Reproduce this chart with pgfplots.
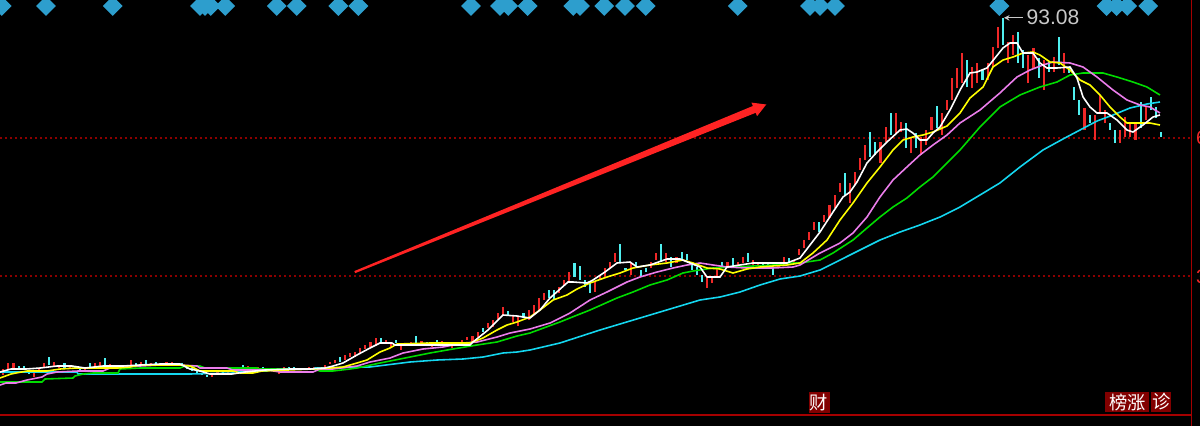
\documentclass[border=0pt]{standalone}
\usepackage{pgfplots}
\pgfplotsset{compat=1.18}
\usetikzlibrary{arrows.meta}
\usepackage{fontspec}
\setmainfont{Liberation Sans}
\newfontfamily\cjk{Noto Sans CJK SC}

\definecolor{upred}{RGB}{240,40,40}
\definecolor{dncyan}{RGB}{80,240,240}
\definecolor{mayel}{RGB}{255,255,0}
\definecolor{mamag}{RGB}{235,125,235}
\definecolor{magrn}{RGB}{0,220,0}
\definecolor{macyn}{RGB}{20,215,240}
\definecolor{diam}{RGB}{45,158,205}
\definecolor{gridred}{RGB}{140,0,0}
\definecolor{border}{RGB}{165,0,0}
\definecolor{boxred}{RGB}{130,0,0}
\definecolor{arrowred}{RGB}{255,35,35}
\definecolor{lbl}{RGB}{200,200,200}

\begin{document}
\begin{tikzpicture}
\fill[black] (0,0) rectangle (12cm,4.26cm);

\begin{axis}[
    at={(0cm,0.11cm)}, anchor=south west,
    scale only axis, width=11.92cm, height=4.16cm,
    xmin=-0.647, xmax=233.08,
    ymin=5.70, ymax=97.22,
    axis line style={draw=none},
    xtick=\empty,
    ytick={36.21,66.71}, yticklabels={},
    major tick length=0pt,
    ymajorgrids,
    grid style={gridred, line width=0.5pt, dash pattern=on 0.57pt off 0.85pt},
    unbounded coords=jump,
]

% up days (red)
\addplot[upred, line width=0.6pt] coordinates {
(0,14.50)(0,15.82)(0,nan) (1,15.60)(1,17.14)(1,nan) (2,15.82)(2,17.14)(2,nan)
(6,14.06)(6,14.94)(6,nan) (7,15.16)(7,15.82)(7,nan) (8,16.26)(8,17.14)(8,nan)
(10,16.26)(10,17.36)(10,nan) (11,16.04)(11,16.70)(11,nan) (13,15.82)(13,16.26)(13,nan)
(16,15.16)(16,15.82)(16,nan) (18,16.26)(18,17.14)(18,nan) (19,16.26)(19,17.36)(19,nan)
(21,16.26)(21,16.92)(21,nan) (24,16.26)(24,16.70)(24,nan) (25,16.70)(25,17.80)(25,nan)
(27,16.48)(27,17.36)(27,nan) (29,16.48)(29,17.14)(29,nan) (32,16.92)(32,17.36)(32,nan)
(33,16.70)(33,17.36)(33,nan) (41,14.06)(41,14.50)(41,nan) (42,14.50)(42,15.16)(42,nan)
(44,14.94)(44,15.60)(44,nan) (46,15.38)(46,16.04)(46,nan) (48,15.82)(48,16.48)(48,nan)
(50,15.82)(50,16.26)(50,nan) (52,15.60)(52,16.04)(52,nan) (54,14.72)(54,15.16)(54,nan)
(55,15.82)(55,16.26)(55,nan) (58,15.60)(58,16.04)(58,nan) (60,15.60)(60,16.26)(60,nan)
(61,15.82)(61,16.26)(61,nan) (62,15.82)(62,16.26)(62,nan) (63,16.26)(63,16.70)(63,nan)
(64,16.92)(64,17.36)(64,nan) (65,17.14)(65,17.80)(65,nan) (67,17.80)(67,18.90)(67,nan)
(68,18.46)(68,19.34)(68,nan) (69,18.46)(69,19.56)(69,nan) (70,19.34)(70,20.44)(70,nan)
(71,20.22)(71,21.10)(71,nan) (72,20.66)(72,21.76)(72,nan) (73,20.88)(73,22.64)(73,nan)
(75,21.32)(75,22.20)(75,nan) (76,20.66)(76,21.76)(76,nan) (78,20.00)(78,20.88)(78,nan)
(80,21.10)(80,21.76)(80,nan) (82,21.10)(82,21.98)(82,nan) (84,20.66)(84,21.76)(84,nan)
(86,21.32)(86,21.98)(86,nan) (88,20.44)(88,21.10)(88,nan) (90,21.32)(90,22.20)(90,nan)
(91,22.20)(91,22.86)(91,nan) (92,21.76)(92,23.08)(92,nan) (93,22.86)(93,23.96)(93,nan)
(95,24.84)(95,25.94)(95,nan) (96,25.06)(96,26.60)(96,nan) (97,26.82)(97,28.14)(97,nan)
(98,27.48)(98,29.46)(98,nan) (100,26.16)(100,27.70)(100,nan) (101,25.28)(101,27.26)(101,nan)
(103,26.60)(103,28.80)(103,nan) (104,27.70)(104,29.90)(104,nan) (105,28.80)(105,31.44)(105,nan)
(106,31.00)(106,32.54)(106,nan) (109,32.54)(109,33.86)(109,nan) (110,34.08)(110,35.40)(110,nan)
(111,34.96)(111,37.16)(111,nan) (116,32.76)(116,34.96)(116,nan) (117,35.40)(117,36.50)(117,nan)
(118,35.84)(118,38.04)(118,nan) (119,38.04)(119,39.36)(119,nan) (120,39.36)(120,41.34)(120,nan)
(123,36.50)(123,39.14)(123,nan) (127,38.04)(127,39.36)(127,nan) (128,39.80)(128,41.34)(128,nan)
(130,39.36)(130,41.34)(130,nan) (132,39.14)(132,40.46)(132,nan) (138,33.64)(138,35.84)(138,nan)
(139,34.74)(139,36.06)(139,nan) (140,36.06)(140,37.60)(140,nan) (142,38.26)(142,39.36)(142,nan)
(144,38.26)(144,39.36)(144,nan) (145,39.14)(145,40.46)(145,nan) (147,38.70)(147,39.80)(147,nan)
(148,38.70)(148,39.36)(148,nan) (152,38.26)(152,39.36)(152,nan) (153,39.14)(153,40.46)(153,nan)
(155,39.14)(155,39.80)(155,nan) (156,40.90)(156,42.22)(156,nan) (157,42.44)(157,44.20)(157,nan)
(158,44.20)(158,45.96)(158,nan) (159,46.40)(159,48.16)(159,nan) (161,48.16)(161,49.70)(161,nan)
(162,49.04)(162,51.90)(162,nan) (163,51.24)(163,54.10)(163,nan) (164,54.76)(164,56.74)(164,nan)
(166,52.34)(166,56.74)(166,nan) (167,56.30)(167,59.16)(167,nan) (168,59.60)(168,62.24)(168,nan)
(169,61.80)(169,65.10)(169,nan) (172,61.14)(172,65.76)(172,nan) (173,65.76)(173,69.06)(173,nan)
(175,67.74)(175,72.14)(175,nan) (176,67.96)(176,70.16)(176,nan) (178,63.34)(178,66.64)(178,nan)
(180,62.90)(180,66.86)(180,nan) (181,65.10)(181,68.40)(181,nan) (182,68.40)(182,71.26)(182,nan)
(184,67.30)(184,72.14)(184,nan) (185,72.80)(185,75.00)(185,nan) (186,75.00)(186,79.84)(186,nan)
(187,77.64)(187,82.04)(187,nan) (188,78.74)(188,85.34)(188,nan) (190,77.64)(190,82.26)(190,nan)
(191,78.74)(191,83.14)(191,nan) (193,79.40)(193,83.14)(193,nan) (194,82.26)(194,86.66)(194,nan)
(195,86.44)(195,91.06)(195,nan) (197,83.14)(197,87.76)(197,nan) (198,84.90)(198,89.30)(198,nan)
(201,78.74)(201,84.90)(201,nan) (202,82.04)(202,86.44)(202,nan) (204,77.20)(204,83.80)(204,nan)
(206,81.16)(206,84.46)(206,nan) (208,80.94)(208,85.34)(208,nan) (212,68.40)(212,73.24)(212,nan)
(214,66.20)(214,71.70)(214,nan) (215,72.36)(215,76.10)(215,nan) (216,69.94)(216,72.80)(216,nan)
(219,65.54)(219,68.40)(219,nan) (220,66.86)(220,71.26)(220,nan) (221,66.86)(221,69.94)(221,nan)
(222,66.20)(222,70.16)(222,nan) (224,70.60)(224,73.46)(224,nan)
};

% down days (cyan)
\addplot[dncyan, line width=0.6pt] coordinates {
(3,15.82)(3,16.48)(3,nan) (4,15.82)(4,16.48)(4,nan) (5,14.72)(5,15.38)(5,nan)
(9,16.70)(9,18.46)(9,nan) (12,16.04)(12,17.14)(12,nan) (14,16.04)(14,16.48)(14,nan)
(15,15.16)(15,15.82)(15,nan) (17,16.26)(17,17.14)(17,nan) (20,16.48)(20,18.24)(20,nan)
(22,16.04)(22,16.70)(22,nan) (23,15.82)(23,16.48)(23,nan) (26,16.48)(26,17.14)(26,nan)
(28,16.70)(28,17.80)(28,nan) (30,16.48)(30,17.36)(30,nan) (31,16.48)(31,17.14)(31,nan)
(34,16.48)(34,17.14)(34,nan) (35,16.70)(35,17.14)(35,nan) (36,15.82)(36,16.70)(36,nan)
(37,15.38)(37,16.04)(37,nan) (38,14.94)(38,15.60)(38,nan) (39,14.50)(39,14.94)(39,nan)
(40,14.06)(40,14.50)(40,nan) (43,14.72)(43,15.38)(43,nan) (45,15.16)(45,15.60)(45,nan)
(47,16.26)(47,16.70)(47,nan) (49,15.60)(49,16.26)(49,nan) (51,15.82)(51,16.26)(51,nan)
(53,15.38)(53,16.04)(53,nan) (56,15.82)(56,16.26)(56,nan) (57,15.82)(57,16.26)(57,nan)
(59,15.60)(59,16.04)(59,nan) (66,17.36)(66,18.46)(66,nan) (74,21.54)(74,22.64)(74,nan)
(77,21.54)(77,22.20)(77,nan) (79,20.88)(79,21.54)(79,nan) (81,21.54)(81,23.08)(81,nan)
(83,20.88)(83,21.76)(83,nan) (85,21.54)(85,22.20)(85,nan) (87,20.66)(87,21.76)(87,nan)
(89,20.88)(89,21.54)(89,nan) (94,23.96)(94,24.84)(94,nan) (99,27.70)(99,28.58)(99,nan)
(102,27.04)(102,28.14)(102,nan) (107,31.44)(107,33.20)(107,nan) (108,31.00)(108,33.20)(108,nan)
(112,36.06)(112,39.14)(112,nan) (113,35.40)(113,38.48)(113,nan) (114,33.86)(114,35.40)(114,nan)
(115,32.54)(115,34.96)(115,nan) (121,39.36)(121,43.32)(121,nan) (122,37.60)(122,38.04)(122,nan)
(124,38.48)(124,39.36)(124,nan) (125,36.06)(125,37.60)(125,nan) (126,37.16)(126,38.04)(126,nan)
(129,39.36)(129,43.32)(129,nan) (131,38.26)(131,40.46)(131,nan) (133,39.80)(133,41.56)(133,nan)
(134,39.80)(134,41.12)(134,nan) (135,37.60)(135,39.14)(135,nan) (136,36.50)(136,38.26)(136,nan)
(137,34.96)(137,36.50)(137,nan) (141,38.26)(141,39.36)(141,nan) (143,38.26)(143,40.24)(143,nan)
(146,39.36)(146,41.34)(146,nan) (149,38.04)(149,39.14)(149,nan) (150,38.48)(150,39.14)(150,nan)
(151,36.50)(151,38.04)(151,nan) (154,38.70)(154,40.24)(154,nan) (160,45.96)(160,48.16)(160,nan)
(165,54.10)(165,58.94)(165,nan) (170,62.46)(170,67.96)(170,nan) (171,62.90)(171,65.76)(171,nan)
(174,67.30)(174,72.14)(174,nan) (177,64.44)(177,69.94)(177,nan) (179,64.44)(179,67.74)(179,nan)
(183,68.84)(183,73.68)(183,nan) (189,77.86)(189,83.80)(189,nan) (192,79.40)(192,81.60)(192,nan)
(196,87.10)(196,93.08)(196,nan) (199,83.14)(199,89.96)(199,nan) (200,82.04)(200,86.00)(200,nan)
(203,79.84)(203,84.24)(203,nan) (205,81.16)(205,83.36)(205,nan) (207,82.70)(207,88.86)(207,nan)
(209,80.94)(209,82.26)(209,nan) (210,75.00)(210,77.86)(210,nan) (211,71.70)(211,75.00)(211,nan)
(213,69.94)(213,71.70)(213,nan) (217,68.40)(217,69.94)(217,nan) (218,65.54)(218,68.40)(218,nan)
(223,68.84)(223,74.56)(223,nan) (225,72.80)(225,75.66)(225,nan) (226,71.04)(226,73.46)(226,nan)
(227,66.86)(227,67.96)(227,nan)
};

% long moving average (cyan)
\addplot[macyn, line width=0.45pt] coordinates {
(-0.65,15.16)(14.45,15.16)(14.65,14.72)(36.61,14.72)(45.04,14.94)(45.43,15.38)(51.71,15.38)
(52.29,15.82)(60.73,15.82)(61.12,16.04)(71.9,16.26)(79.75,17.36)(85.04,17.80)(90.14,18.02)
(94.06,18.46)(97.98,19.34)(100.73,19.56)(103.27,20.00)(109.14,21.54)(117.0,24.40)(126.8,27.70)
(136.61,31.00)(140.53,31.66)(144.45,32.76)(148.37,34.30)(152.29,35.62)(156.22,36.28)(160.14,37.60)
(164.06,39.80)(167.98,42.00)(171.9,44.20)(175.84,45.96)(179.73,47.50)(183.67,49.26)(187.59,51.46)
(191.51,54.10)(195.41,56.74)(199.35,60.26)(203.86,64.00)(207.78,66.42)(211.12,68.40)(214.45,70.38)
(217.59,71.70)(220.92,73.24)(224.25,74.12)(226.8,74.56)
};

% green moving average
\addplot[magrn, line width=0.45pt] coordinates {
(-0.65,12.96)(7.59,12.96)(8.18,13.62)(13.67,13.84)(14.06,14.28)(15.63,14.72)(17.59,14.94)
(22.49,14.94)(22.88,15.82)(26.8,16.04)(34.65,16.04)(35.63,16.48)(38.57,16.48)(39.55,16.04)
(49.75,16.04)(50.33,15.82)(60.73,15.82)(62.1,15.38)(64.65,15.38)(67.98,15.82)(69.35,16.04)
(73.86,17.14)(79.75,18.46)(83.67,19.34)(88.16,20.22)(92.88,21.10)(96.8,21.76)(100.73,23.08)
(103.27,23.74)(109.14,26.16)(115.04,28.80)(120.33,31.44)(123.47,32.76)(126.8,34.30)(130.14,35.40)
(133.27,36.94)(135.24,37.38)(139.16,38.04)(143.08,38.26)(147.0,38.48)(150.92,38.70)(154.84,39.14)
(156.22,39.14)(160.14,39.80)(162.69,41.34)(166.61,44.20)(169.35,46.84)(171.9,49.26)(174.45,51.46)
(177.18,53.44)(179.73,55.86)(182.29,58.06)(185.04,61.14)(187.59,64.00)(191.51,69.06)(195.41,73.46)
(199.35,76.10)(203.27,77.86)(206.61,78.96)(209.16,80.50)(211.71,80.94)(215.63,80.94)(218.37,80.06)
(221.51,78.96)(224.25,77.86)(226.8,76.10)
};

% magenta moving average
\addplot[mamag, line width=0.45pt] coordinates {
(-0.65,12.30)(0.53,12.74)(2.49,12.74)(4.65,13.40)(6.61,13.84)(7.59,14.06)(8.57,14.72)(10.53,15.16)
(14.65,15.38)(19.55,15.38)(20.92,16.04)(22.88,16.26)(26.8,16.48)(30.73,16.70)(34.65,16.70)
(37.98,16.48)(38.57,16.04)(43.86,16.04)(45.04,15.60)(51.71,15.60)(54.25,15.16)(60.73,15.16)
(62.1,15.82)(64.65,15.82)(69.35,16.48)(71.9,17.36)(75.82,18.24)(78.37,19.34)(82.29,20.22)
(86.22,20.66)(90.14,21.54)(92.88,21.76)(96.8,22.86)(99.35,23.74)(103.27,24.62)(107.2,25.94)
(111.12,28.14)(115.04,31.00)(118.37,32.76)(122.29,34.96)(124.84,36.06)(128.18,37.16)(131.31,38.04)
(134.06,38.70)(136.61,39.14)(139.16,38.70)(141.9,38.26)(145.82,38.04)(150.92,38.04)(154.84,38.26)
(156.22,38.70)(160.14,41.34)(164.06,43.54)(166.61,45.74)(169.35,49.26)(171.9,53.66)(174.45,57.40)
(177.18,60.26)(179.73,62.90)(182.29,65.10)(185.04,67.30)(187.59,69.94)(191.51,72.80)(195.41,76.54)
(198.76,80.06)(201.31,81.60)(203.86,82.70)(205.82,83.36)(209.16,83.14)(211.71,82.26)(214.45,80.06)
(217.59,77.20)(220.33,75.00)(222.88,73.90)(224.84,73.46)(226.8,72.14)
};

% yellow moving average
\addplot[mayel, line width=0.45pt] coordinates {
(-0.65,13.84)(1.51,14.72)(2.49,14.94)(4.65,15.38)(8.57,15.38)(11.12,15.82)(14.45,16.04)(22.49,16.04)
(24.84,16.26)(26.8,16.70)(34.65,16.70)(36.61,16.48)(38.57,15.38)(45.04,15.38)(46.41,14.94)
(48.96,14.94)(50.73,15.38)(60.73,15.82)(64.06,16.04)(66.61,16.26)(69.35,17.14)(71.31,17.80)
(73.86,19.56)(75.82,20.44)(77.2,21.32)(83.67,21.54)(91.51,21.54)(94.06,22.64)(96.8,24.40)
(98.76,25.50)(100.73,26.16)(103.27,27.26)(105.24,28.80)(107.8,31.00)(110.53,32.10)(112.49,33.42)
(115.04,34.74)(118.37,36.06)(120.92,36.94)(123.47,38.04)(126.8,38.70)(130.14,39.14)(133.27,39.80)
(135.24,39.14)(137.98,38.04)(140.53,37.82)(143.08,36.94)(145.82,37.82)(148.37,38.26)(150.92,38.48)
(153.67,38.70)(156.22,39.14)(158.76,41.34)(161.51,44.20)(164.06,48.60)(166.61,52.34)(169.35,56.74)
(171.9,60.26)(174.45,64.00)(176.41,66.20)(178.37,66.86)(180.33,67.30)(182.29,67.96)(185.04,69.28)
(187.59,72.14)(189.55,75.44)(192.1,77.86)(194.06,82.26)(196.02,83.80)(197.98,84.46)(199.94,85.34)
(201.9,85.56)(203.27,84.90)(205.24,83.36)(207.2,83.14)(209.16,81.60)(211.12,79.40)(213.08,78.30)
(215.04,76.10)(217.0,73.46)(218.96,71.26)(220.33,69.94)(222.88,69.94)(224.84,69.94)(226.8,69.50)
};

% white moving average
\addplot[white, line width=0.45pt] coordinates {
(-0.65,15.16)(1.51,15.82)(4.45,15.82)(7.2,16.04)(10.53,16.48)(13.47,16.48)(16.02,16.04)(19.55,16.48)
(23.47,16.48)(26.8,16.70)(30.73,16.92)(34.65,16.92)(36.61,15.82)(38.57,15.38)(40.53,14.72)
(44.84,14.72)(47.39,15.16)(51.31,15.60)(56.22,15.82)(60.14,15.82)(63.08,16.04)(64.65,16.48)
(66.61,17.14)(69.35,18.90)(71.9,20.44)(73.86,21.54)(76.22,21.54)(76.8,21.10)(85.63,21.10)
(91.51,21.10)(92.1,21.76)(95.04,24.40)(97.98,27.70)(100.73,27.48)(103.27,27.04)(105.24,28.80)
(107.2,31.44)(110.73,34.96)(111.71,34.96)(114.45,34.74)(115.63,35.40)(117.98,37.16)(120.33,39.14)
(122.88,39.36)(124.25,38.26)(126.8,38.70)(130.14,40.02)(132.69,40.02)(134.65,39.14)(136.61,38.26)
(137.98,36.06)(140.53,36.06)(141.9,38.26)(144.45,38.70)(147.0,39.14)(149.75,39.14)(153.67,39.14)
(156.22,40.24)(158.18,43.10)(160.14,45.96)(162.69,50.36)(164.65,53.66)(166.02,54.76)(167.39,56.96)
(169.35,61.14)(171.31,63.56)(173.27,65.76)(175.84,68.40)(177.18,68.62)(178.35,67.74)(179.73,66.20)
(181.1,66.20)(182.29,67.74)(183.67,69.06)(185.63,72.80)(187.59,77.20)(189.55,80.94)(190.92,81.16)
(192.88,82.04)(194.45,84.24)(196.02,86.44)(197.39,87.54)(198.76,87.54)(199.94,85.34)(201.9,85.34)
(203.27,83.14)(204.65,82.04)(206.61,82.04)(209.16,82.26)(210.53,79.84)(211.71,75.66)(213.08,73.46)
(214.45,72.14)(216.41,72.14)(218.37,70.60)(220.33,68.40)(221.51,67.96)(223.47,69.50)(225.43,71.26)
(226.8,71.70)
};

% signal diamonds along the top
\addplot[only marks, mark=square*, mark size=1.8pt,
    mark options={rotate=45, fill=diam, draw=diam}] coordinates {
(-0.31,95.68)(8.37,95.68)(21.45,95.68)(38.57,95.68)(39.55,95.68)(40.67,95.68)(43.53,95.68)
(53.61,95.68)(57.53,95.68)(65.69,95.68)(69.61,95.68)(91.71,95.68)(97.39,95.68)(99.02,95.68)
(102.82,95.68)(111.76,95.68)(113.08,95.68)(117.84,95.68)(121.9,95.68)(125.96,95.68)(144.0,95.68)
(158.18,95.68)(160.14,95.68)(163.08,95.68)(195.3,95.68)(216.35,95.68)(218.31,95.68)(220.39,95.68)
(224.51,95.68)
};

% high marker
\draw[lbl, line width=0.3pt, -{Stealth[length=1.6pt,width=1.6pt]}]
    (axis cs:199.9,93.08) -- (axis cs:196.2,93.08);
\node[anchor=west, inner sep=0pt, text=lbl, font=\fontsize{6}{7}\selectfont]
    at (axis cs:200.5,93.3) {93.08};
\end{axis}

\begin{scope}[x=0.01cm, y=0.01cm]
% frame lines
\draw[border, line width=0.45pt] (0,11) -- (1192,11);
\draw[border, line width=0.45pt] (1192,0) -- (1192,426);
% price labels on the right, cut by the edge as in the source
\node[anchor=west, inner sep=0pt, text=upred, font=\fontsize{5.5}{6}\selectfont] at (1196,288.3) {66.71};
\node[anchor=west, inner sep=0pt, text=upred, font=\fontsize{5.5}{6}\selectfont] at (1196,149.7) {36.21};
% trend arrow (tapered shaft, short head)
\fill[arrowred] (355.5,153.0) -- (756.1,313.4) -- (757.5,310.0) -- (766.7,321.7)
    -- (751.9,323.6) -- (753.3,320.2) -- (354.5,155.0) -- cycle;
% labels at the bottom
\node[fill=boxred, text=white, inner sep=0pt, minimum width=0.21cm, minimum height=0.21cm,
    font=\cjk\fontsize{5.2}{6}\selectfont] at (819.5,23.5) {财};
\node[fill=boxred, text=white, inner sep=0pt, minimum width=0.44cm, minimum height=0.20cm,
    font=\cjk\fontsize{5.2}{6}\selectfont] at (1128,24) {榜涨};
\node[fill=boxred, text=white, inner sep=0pt, minimum width=0.20cm, minimum height=0.20cm,
    font=\cjk\fontsize{5.2}{6}\selectfont] at (1162,24) {诊};
\end{scope}

\pgfresetboundingbox
\useasboundingbox (0,0) rectangle (12cm,4.26cm);
\end{tikzpicture}
\end{document}
